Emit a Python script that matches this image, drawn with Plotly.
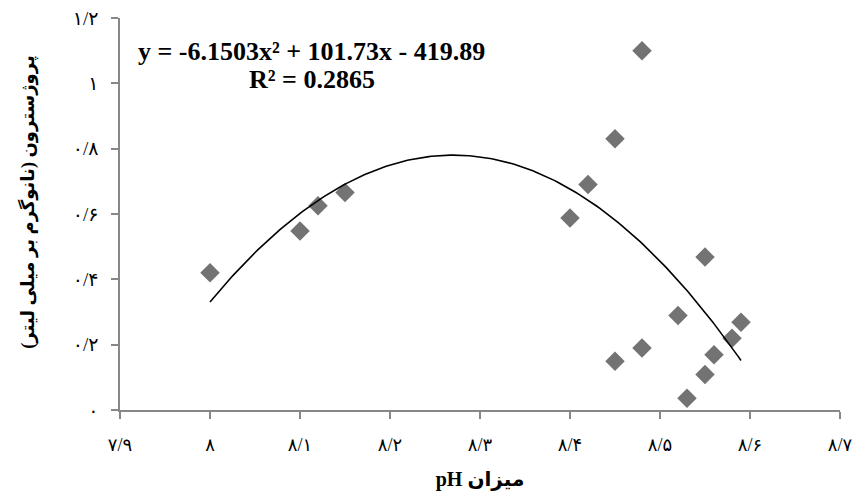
import numpy as np
import plotly.graph_objects as go

# ---- data ----
ph = [8.00, 8.10, 8.12, 8.15, 8.40, 8.42, 8.45, 8.48, 8.45, 8.48,
      8.52, 8.53, 8.55, 8.55, 8.56, 8.58, 8.59]
progesterone = [0.42, 0.548, 0.625, 0.666, 0.588, 0.69, 0.83, 1.10, 0.149, 0.19,
                0.289, 0.036, 0.468, 0.109, 0.169, 0.22, 0.269]

trend_coef = [-6.1503, 101.73, -419.89]  # y = a x^2 + b x + c (as printed on chart)

x_tickvals = [7.9, 8.0, 8.1, 8.2, 8.3, 8.4, 8.5, 8.6, 8.7]
x_ticktext = ["۷/۹", "۸", "۸/۱", "۸/۲", "۸/۳", "۸/۴", "۸/۵", "۸/۶", "۸/۷"]
y_tickvals = [0, 0.2, 0.4, 0.6, 0.8, 1.0, 1.2]
y_ticktext = ["۰", "۰/۲", "۰/۴", "۰/۶", "۰/۸", "۱", "۱/۲"]

x_title = "<b>pH میزان</b>"
y_title = "<b>\u200fپروژسترون (نانوگرم بر میلی لیتر)\u200f</b>"
eq_line1 = "<b>y = -6.1503x² + 101.73x - 419.89</b>"
eq_line2 = "<b>R² = 0.2865</b>"

# ---- trendline ----
tx = np.linspace(min(ph), max(ph), 200)
ty = np.polyval(trend_coef, tx)

axis_col = "#878787"
serif = "Liberation Serif, DejaVu Sans"

fig = go.Figure()
fig.add_trace(go.Scatter(
    x=ph, y=progesterone, mode="markers",
    marker=dict(symbol="diamond", size=15, color="#737373", line=dict(width=0)),
    showlegend=False, hoverinfo="x+y"))
fig.add_trace(go.Scatter(
    x=tx, y=ty, mode="lines", line=dict(color="black", width=1.6),
    showlegend=False, hoverinfo="skip"))

fig.add_annotation(
    x=8.113, y=1.098, xref="x", yref="y", text=eq_line1, showarrow=False,
    xanchor="center", yanchor="middle",
    font=dict(family="Liberation Serif", size=26, color="black"))
fig.add_annotation(
    x=8.113, y=1.012, xref="x", yref="y", text=eq_line2, showarrow=False,
    xanchor="center", yanchor="middle",
    font=dict(family="Liberation Serif", size=26, color="black"))

# y-axis title (placed as rotated annotation to match reference position)
fig.add_annotation(
    x=-0.128, y=0.531, xref="paper", yref="paper", text=y_title, showarrow=False,
    textangle=-90, xanchor="center", yanchor="middle",
    font=dict(family=serif, size=18, color="black"))

fig.update_xaxes(
    range=[7.9, 8.7], tickvals=x_tickvals, ticktext=x_ticktext,
    showline=True, linecolor=axis_col, linewidth=1.5,
    ticks="outside", ticklen=7, tickwidth=1.5, tickcolor=axis_col,
    showgrid=False, zeroline=False, ticklabelstandoff=11,
    ticklabeloverflow="allow",
    tickfont=dict(family=serif, size=18, color="black"),
    title=dict(text=x_title, standoff=25,
               font=dict(family=serif, size=20, color="black")))
fig.update_yaxes(
    range=[0, 1.2], tickvals=y_tickvals, ticktext=y_ticktext,
    showline=True, linecolor=axis_col, linewidth=1.5,
    ticks="outside", ticklen=7, tickwidth=1.5, tickcolor=axis_col,
    showgrid=False, zeroline=False, ticklabelstandoff=9,
    ticklabeloverflow="allow",
    tickfont=dict(family=serif, size=19, color="black"))

fig.update_layout(
    width=852, height=483,
    margin=dict(l=112, r=20, t=10, b=81, autoexpand=False),
    paper_bgcolor="white", plot_bgcolor="white",
)

fig.write_html("out.html")
